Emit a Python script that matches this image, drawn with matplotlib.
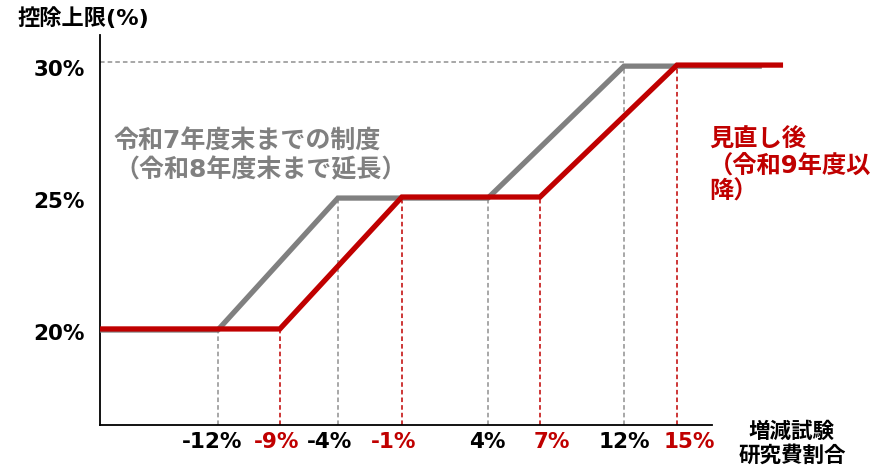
import numpy as np
import matplotlib
matplotlib.use("Agg")
import matplotlib.pyplot as plt

plt.rcParams['font.family'] = ['DejaVu Sans', 'Noto Sans CJK JP']

# ---- data ----
old_x = [-17.7, -12, -4, 4, 12, 19.8]
old_y = [20, 20, 25, 25, 30, 30]
new_x = [-17.7, -9, -1, 7, 15, 21.0]
new_y = [20, 20, 25, 25, 30, 30]
old_breaks = [-12, -4, 4, 12]
old_levels = [20, 25, 25, 30]
new_breaks = [-9, -1, 7, 15]
new_levels = [20, 25, 25, 30]
xtick_vals = [-12, -9, -4, -1, 4, 7, 12, 15]
xtick_labels = ['-12%', '-9%', '-4%', '-1%', '4%', '7%', '12%', '15%']
ytick_vals = [20, 25, 30]
ytick_labels = ['20%', '25%', '30%']
old_label = '令和7年度末までの制度\n（令和8年度末まで延長）'
new_label = '見直し後\n（令和9年度以\n降）'
ylabel = '控除上限(%)'
xlabel = '増減試験\n研究費割合'

GRAY = '#808080'
RED = '#C00000'

# ---- piecewise axis warp (as in the original drawing) ----
warp_src = np.array([-12, -9, -4, -1, 4, 7, 12, 15], dtype=float)
warp_dst = np.array([218, 280, 338, 402, 488, 540, 624, 677], dtype=float)
sl_left = (warp_dst[1] - warp_dst[0]) / (warp_src[1] - warp_src[0])
sl_right = (warp_dst[-1] - warp_dst[-2]) / (warp_src[-1] - warp_src[-2])


def fwd(v):
    v = np.asarray(v, dtype=float)
    out = np.interp(v, warp_src, warp_dst)
    out = np.where(v < warp_src[0], warp_dst[0] + (v - warp_src[0]) * sl_left, out)
    out = np.where(v > warp_src[-1], warp_dst[-1] + (v - warp_src[-1]) * sl_right, out)
    return out


def inv(p):
    p = np.asarray(p, dtype=float)
    out = np.interp(p, warp_dst, warp_src)
    out = np.where(p < warp_dst[0], warp_src[0] + (p - warp_dst[0]) / sl_left, out)
    out = np.where(p > warp_dst[-1], warp_src[-1] + (p - warp_dst[-1]) / sl_right, out)
    return out


W, H = 895, 466
fig = plt.figure(figsize=(W / 100, H / 100), dpi=100)
ax = fig.add_axes([100 / W, 41 / H, 612 / W, 390 / H])
ax.set_xscale('function', functions=(fwd, inv))
ax.set_xlim(-17.7, 16.98)
ax.set_ylim(16.36, 31.14)

for s in ['top', 'right']:
    ax.spines[s].set_visible(False)
ax.spines['left'].set_linewidth(1.3)
ax.spines['bottom'].set_linewidth(1.3)

ymin = ax.get_ylim()[0]
# vertical dashed guides
for x, lv in zip(old_breaks, old_levels):
    ax.plot([x, x], [ymin, lv], color='#909090', lw=1.1, ls=(0, (3, 2)), zorder=2)
for x, lv in zip(new_breaks, new_levels):
    ax.plot([x, x], [ymin, lv], color=RED, lw=1.1, ls=(0, (3, 2)), zorder=2)
# horizontal dashed at 30%
ax.plot([old_x[0], old_breaks[-1]], [30.1, 30.1], color='#909090', lw=1.1,
        ls=(0, (3, 2)), zorder=2)

ax.plot(old_x, [v - 0.04 for v in old_y], color=GRAY, lw=3.8, clip_on=False,
        solid_capstyle='butt', solid_joinstyle='miter', zorder=3)
ax.plot(new_x, new_y, color=RED, lw=3.8, clip_on=False,
        solid_capstyle='butt', solid_joinstyle='miter', zorder=4)

# ticks: positions from the data, labels drawn as annotations with small offsets
ax.set_xticks(xtick_vals)
ax.set_xticklabels([])
ax.set_yticks(ytick_vals)
ax.set_yticklabels([])
ax.tick_params(axis='both', length=0)
ax.minorticks_off()

xlab_dx = [-6, -3, -8, -8, -1, 12, 0, 12]   # pixel nudges of label boxes
for x, lab, dx in zip(xtick_vals, xtick_labels, xlab_dx):
    ax.annotate(lab, xy=(x, 0), xycoords=('data', 'axes fraction'),
                xytext=(dx * 0.72, -17 * 0.72), textcoords='offset points',
                ha='center', va='center', fontsize=15.5, fontweight='bold',
                color=RED if x in new_breaks else 'black', annotation_clip=False)
for y, lab in zip(ytick_vals, ytick_labels):
    ax.annotate(lab, xy=(0, y), xycoords=('axes fraction', 'data'),
                xytext=(-15 * 0.72, -5 * 0.72), textcoords='offset points',
                ha='right', va='center', fontsize=15.5, fontweight='bold',
                color='black', annotation_clip=False)

fig.text(17 / W, 1 - 18 / H, ylabel, fontsize=16, fontweight='bold',
         ha='left', va='center')
fig.text(792 / W, 1 - 444 / H, xlabel, fontsize=15.5, fontweight='bold',
         ha='center', va='center', linespacing=1.2)
fig.text(114 / W, 1 - 156 / H, old_label, fontsize=18, fontweight='bold',
         color=GRAY, ha='left', va='center', linespacing=1.2)
fig.text(709 / W, 1 - 166 / H, new_label, fontsize=17.5, fontweight='bold',
         color=RED, ha='left', va='center', linespacing=1.1)

fig.savefig('out.png', dpi=100)
